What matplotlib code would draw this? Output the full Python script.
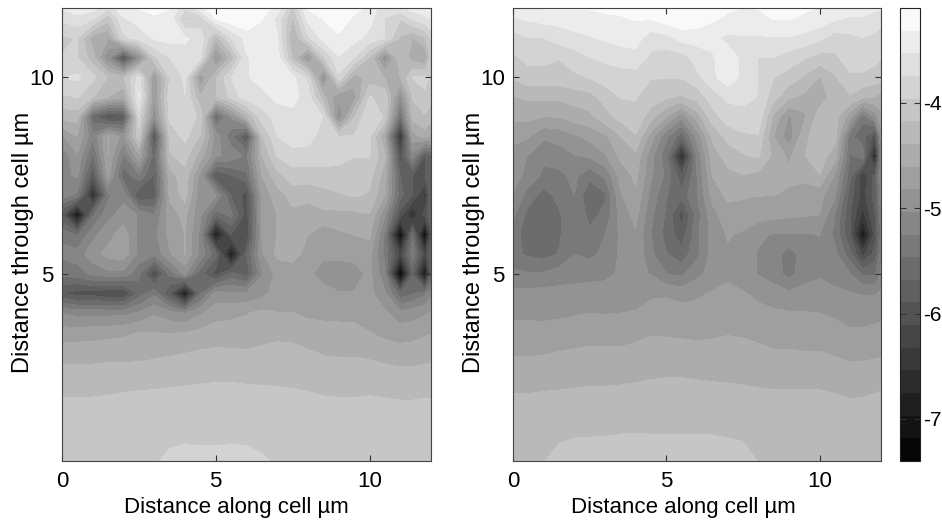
import numpy as np
import matplotlib
matplotlib.use("Agg")
import matplotlib.pyplot as plt

plt.rcParams['font.family'] = ['Liberation Sans', 'DejaVu Sans']

# posiciones de la malla (um)
x_cell = [0, .5, 1, 1.5, 2, 2.5, 3, 3.5, 4, 4.5, 5, 5.5, 6, 6.5, 7, 7.5, 8, 8.5, 9, 9.5, 10, 10.5, 11, 11.4, 11.8, 12]
y_cell = [0.23, 1, 1.5, 2, 2.5, 3, 3.5, 4, 4.5, 5, 5.5, 6, 6.5, 7, 7.5, 8, 8.5, 9, 9.5, 10, 10.5, 11, 11.5, 11.77]

# panel izquierdo, filas de abajo hacia arriba
left_z = [
    [-4.02,-4.02,-4.02,-4.02,-4.02,-4.02,-3.98,-3.92,-3.88,-3.9,-3.9,-3.88,-3.9,-3.94,-3.98,-4.0,-4.02,-4.02,-4.02,-4.02,-4.02,-4.02,-4.02,-4.02,-4.02,-4.02],
    [-4.03,-4.03,-4.03,-4.03,-4.03,-4.03,-4.03,-4.02,-4.02,-4.02,-4.02,-4.02,-4.02,-4.02,-4.02,-4.03,-4.03,-4.03,-4.03,-4.03,-4.03,-4.03,-4.03,-4.03,-4.03,-4.03],
    [-4.12,-4.12,-4.11,-4.11,-4.1,-4.1,-4.09,-4.08,-4.07,-4.07,-4.06,-4.06,-4.07,-4.08,-4.09,-4.1,-4.11,-4.12,-4.12,-4.12,-4.12,-4.12,-4.13,-4.13,-4.13,-4.13],
    [-4.2,-4.2,-4.2,-4.19,-4.18,-4.17,-4.16,-4.15,-4.14,-4.13,-4.12,-4.12,-4.13,-4.14,-4.15,-4.16,-4.175,-4.19,-4.2,-4.2,-4.19,-4.2,-4.21,-4.21,-4.2,-4.2],
    [-4.33,-4.33,-4.33,-4.32,-4.32,-4.31,-4.3,-4.28,-4.27,-4.25,-4.24,-4.24,-4.25,-4.25,-4.25,-4.26,-4.28,-4.3,-4.3,-4.3,-4.31,-4.33,-4.35,-4.35,-4.34,-4.33],
    [-4.49,-4.49,-4.48,-4.47,-4.47,-4.46,-4.44,-4.42,-4.4,-4.37,-4.35,-4.36,-4.37,-4.35,-4.32,-4.33,-4.37,-4.41,-4.42,-4.42,-4.44,-4.48,-4.51,-4.5,-4.47,-4.46],
    [-4.72,-4.72,-4.7,-4.68,-4.65,-4.6,-4.6,-4.62,-4.6,-4.55,-4.5,-4.52,-4.5,-4.47,-4.45,-4.46,-4.5,-4.54,-4.55,-4.56,-4.6,-4.67,-4.72,-4.7,-4.64,-4.62],
    [-5.05,-5.1,-5.1,-5.1,-5.1,-5.0,-4.85,-4.95,-5.05,-4.85,-4.7,-4.65,-4.62,-4.55,-4.6,-4.6,-4.65,-4.65,-4.65,-4.65,-4.7,-4.78,-4.95,-4.9,-4.85,-4.8],
    [-5.9,-6.0,-6.0,-6.1,-6.1,-5.6,-5.3,-5.9,-6.9,-5.5,-4.95,-5.0,-5.0,-4.9,-4.7,-4.7,-4.7,-4.7,-4.8,-4.8,-4.75,-5.0,-5.6,-5.5,-5.3,-5.1],
    [-5.4,-5.35,-5.2,-5.1,-5.1,-5.4,-6.1,-5.4,-5.0,-5.6,-6.0,-5.6,-5.8,-5.05,-4.75,-4.75,-4.75,-4.95,-5.05,-4.95,-4.75,-5.2,-7.3,-5.7,-7.0,-5.8],
    [-5.2,-5.15,-4.9,-4.75,-4.7,-5.1,-5.2,-4.85,-4.6,-5.1,-5.6,-6.9,-5.7,-4.85,-4.55,-4.5,-4.7,-4.75,-4.72,-4.72,-4.75,-5.3,-6.2,-5.3,-6.2,-5.7],
    [-5.3,-5.5,-5.1,-4.9,-4.7,-5.1,-5.1,-4.75,-4.6,-5.1,-6.9,-5.9,-6.1,-4.8,-4.6,-4.55,-4.6,-4.75,-4.65,-4.6,-4.55,-5.3,-7.2,-5.5,-7.2,-6.0],
    [-5.9,-7.0,-5.5,-5.1,-4.95,-5.05,-5.25,-4.7,-4.55,-5.0,-5.6,-5.4,-6.0,-4.8,-4.6,-4.45,-4.45,-4.45,-4.45,-4.45,-4.4,-5.0,-6.0,-6.6,-6.0,-5.7],
    [-5.15,-5.3,-6.6,-5.3,-5.1,-5.9,-5.8,-4.55,-4.3,-5.0,-5.0,-5.7,-6.0,-4.75,-4.5,-4.3,-4.35,-4.25,-4.2,-4.15,-4.2,-4.6,-5.6,-5.9,-6.4,-5.7],
    [-5.1,-5.0,-5.9,-4.75,-5.6,-5.3,-5.7,-4.5,-4.25,-4.9,-5.9,-5.7,-5.5,-4.6,-4.25,-4.05,-4.05,-4.05,-4.03,-4.1,-4.1,-4.5,-5.7,-5.9,-5.9,-5.7],
    [-5.2,-4.85,-5.5,-4.6,-5.3,-4.65,-5.6,-4.2,-4.1,-4.5,-5.0,-5.1,-5.3,-4.4,-3.95,-3.85,-3.85,-3.85,-3.9,-3.95,-3.95,-4.35,-6.0,-5.1,-5.9,-5.7],
    [-4.85,-4.6,-5.2,-4.6,-4.9,-4.05,-6.0,-4.1,-3.9,-4.2,-4.9,-5.4,-5.9,-4.2,-3.75,-3.6,-3.65,-3.85,-3.95,-3.95,-3.9,-4.6,-6.5,-4.7,-4.5,-4.6],
    [-4.3,-4.3,-5.6,-6.0,-5.9,-3.85,-5.0,-3.9,-3.85,-4.0,-5.6,-5.0,-4.4,-3.85,-3.65,-3.6,-3.65,-3.75,-5.0,-4.2,-3.75,-4.0,-5.5,-4.3,-4.2,-4.3],
    [-4.0,-3.95,-4.15,-4.4,-4.55,-3.5,-4.8,-3.85,-3.75,-4.35,-4.2,-3.9,-3.6,-3.6,-3.47,-3.45,-3.65,-4.3,-4.8,-4.7,-3.95,-4.0,-5.0,-4.15,-4.0,-4.1],
    [-3.75,-3.7,-3.9,-4.2,-4.2,-3.65,-4.8,-3.95,-3.7,-4.8,-4.2,-3.75,-3.55,-3.45,-3.4,-3.47,-3.8,-5.0,-3.8,-4.5,-4.3,-4.4,-4.4,-3.95,-3.9,-4.0],
    [-3.95,-3.95,-4.3,-5.0,-6.0,-5.0,-4.0,-3.75,-3.6,-3.7,-4.9,-4.3,-3.55,-3.45,-3.42,-4.2,-4.9,-4.0,-3.55,-3.75,-4.2,-5.0,-4.2,-4.5,-4.6,-4.1],
    [-4.0,-3.95,-4.5,-4.6,-3.8,-3.65,-3.5,-3.45,-3.5,-3.6,-4.3,-3.75,-3.45,-3.4,-3.5,-4.4,-3.8,-3.45,-3.35,-3.45,-3.6,-3.75,-4.2,-4.4,-4.2,-3.95],
    [-3.7,-3.6,-3.7,-4.1,-3.55,-3.45,-3.35,-3.4,-4.0,-3.9,-3.3,-3.15,-3.12,-3.3,-3.6,-4.2,-3.45,-3.3,-3.2,-3.35,-3.45,-3.75,-3.95,-3.7,-3.6,-3.5],
    [-3.5,-3.4,-3.45,-3.7,-3.35,-3.3,-3.25,-3.3,-3.7,-3.4,-3.15,-3.12,-3.12,-3.2,-3.4,-4.0,-3.3,-3.2,-3.15,-3.25,-3.35,-3.7,-3.6,-3.45,-3.35,-3.35],
]

# panel derecho
right_z = [
    [-4.25,-4.22,-4.18,-4.14,-4.1,-4.08,-4.07,-4.05,-4.04,-4.05,-4.07,-4.06,-4.06,-4.08,-4.1,-4.13,-4.18,-4.22,-4.24,-4.24,-4.24,-4.25,-4.26,-4.25,-4.25,-4.25],
    [-4.21,-4.21,-4.2,-4.2,-4.2,-4.2,-4.2,-4.19,-4.19,-4.19,-4.19,-4.19,-4.19,-4.19,-4.2,-4.2,-4.2,-4.21,-4.21,-4.21,-4.21,-4.21,-4.22,-4.22,-4.22,-4.22],
    [-4.3,-4.3,-4.3,-4.29,-4.28,-4.28,-4.27,-4.26,-4.26,-4.25,-4.25,-4.25,-4.25,-4.26,-4.26,-4.27,-4.28,-4.29,-4.3,-4.3,-4.3,-4.31,-4.32,-4.32,-4.31,-4.31],
    [-4.4,-4.4,-4.39,-4.38,-4.37,-4.36,-4.36,-4.35,-4.34,-4.33,-4.32,-4.32,-4.33,-4.34,-4.35,-4.36,-4.37,-4.38,-4.38,-4.38,-4.38,-4.4,-4.43,-4.42,-4.4,-4.39],
    [-4.52,-4.52,-4.51,-4.5,-4.48,-4.47,-4.47,-4.47,-4.45,-4.43,-4.42,-4.42,-4.43,-4.44,-4.44,-4.45,-4.47,-4.49,-4.49,-4.5,-4.5,-4.52,-4.55,-4.55,-4.54,-4.53],
    [-4.63,-4.63,-4.62,-4.6,-4.58,-4.57,-4.57,-4.57,-4.55,-4.53,-4.52,-4.53,-4.54,-4.53,-4.52,-4.54,-4.56,-4.59,-4.59,-4.6,-4.6,-4.63,-4.66,-4.65,-4.64,-4.63],
    [-4.74,-4.74,-4.74,-4.73,-4.72,-4.69,-4.7,-4.7,-4.66,-4.62,-4.63,-4.64,-4.65,-4.64,-4.62,-4.63,-4.66,-4.68,-4.69,-4.7,-4.72,-4.75,-4.79,-4.78,-4.76,-4.75],
    [-4.87,-4.87,-4.88,-4.86,-4.84,-4.82,-4.83,-4.82,-4.81,-4.75,-4.72,-4.74,-4.76,-4.74,-4.72,-4.72,-4.75,-4.79,-4.8,-4.81,-4.82,-4.85,-4.92,-4.92,-4.9,-4.88],
    [-4.98,-4.97,-4.96,-4.96,-4.95,-4.93,-4.92,-4.9,-4.88,-4.85,-4.85,-4.9,-4.85,-4.8,-4.78,-4.8,-4.88,-4.92,-5.0,-4.93,-4.9,-5.0,-5.02,-5.05,-5.05,-5.0],
    [-5.2,-5.23,-5.22,-5.15,-5.13,-5.12,-5.1,-5.0,-4.97,-5.05,-5.25,-5.3,-5.1,-4.95,-4.85,-4.95,-5.05,-5.15,-5.32,-5.15,-5.08,-5.1,-5.25,-5.5,-5.5,-5.2],
    [-5.4,-5.5,-5.55,-5.45,-5.25,-5.3,-5.2,-5.0,-4.85,-5.2,-5.45,-5.6,-5.3,-4.95,-4.85,-4.95,-5.05,-5.15,-5.35,-5.15,-5.08,-5.2,-5.6,-6.2,-5.8,-5.3],
    [-5.35,-5.6,-5.65,-5.5,-5.25,-5.4,-5.25,-5.0,-4.85,-5.25,-5.55,-5.8,-5.3,-4.95,-4.8,-4.85,-5.0,-5.05,-5.05,-5.05,-5.03,-5.3,-5.9,-7.0,-6.0,-5.4],
    [-5.2,-5.55,-5.65,-5.5,-5.25,-5.55,-5.4,-4.95,-4.75,-5.2,-5.5,-6.0,-5.35,-4.9,-4.7,-4.7,-4.72,-4.75,-4.78,-4.8,-4.82,-5.25,-5.9,-6.4,-5.9,-5.35],
    [-5.05,-5.35,-5.55,-5.4,-5.25,-5.65,-5.5,-4.85,-4.65,-5.1,-5.45,-5.6,-5.25,-4.75,-4.55,-4.58,-4.6,-4.6,-4.65,-4.7,-4.75,-5.0,-5.8,-6.2,-5.8,-5.2],
    [-4.95,-5.1,-5.3,-5.3,-5.2,-5.4,-5.2,-4.75,-4.55,-5.0,-5.3,-5.85,-5.25,-4.6,-4.45,-4.4,-4.45,-4.5,-4.55,-4.55,-4.4,-4.85,-5.6,-6.3,-5.8,-5.1],
    [-4.9,-5.05,-5.2,-5.15,-5.05,-5.0,-4.85,-4.55,-4.45,-4.95,-5.4,-6.6,-5.2,-4.5,-4.3,-4.2,-4.15,-4.45,-4.65,-4.4,-4.28,-4.5,-5.5,-5.3,-6.7,-5.2],
    [-4.75,-4.8,-5.0,-4.95,-4.85,-4.75,-4.65,-4.4,-4.2,-4.7,-5.2,-5.6,-4.95,-4.35,-4.1,-4.0,-3.98,-4.6,-4.95,-4.45,-4.25,-4.3,-5.4,-5.6,-6.0,-5.0],
    [-4.55,-4.55,-4.6,-4.6,-4.5,-4.45,-4.25,-4.1,-4.0,-4.3,-4.6,-4.95,-4.5,-4.05,-3.85,-3.8,-3.8,-4.45,-4.85,-4.65,-4.28,-4.3,-4.75,-5.4,-4.95,-4.65],
    [-4.4,-4.35,-4.35,-4.35,-4.3,-4.25,-4.1,-3.95,-3.95,-4.05,-4.15,-4.2,-4.1,-3.85,-3.7,-3.7,-3.75,-4.1,-4.35,-4.45,-4.5,-4.3,-4.2,-4.35,-4.4,-4.5],
    [-4.15,-4.05,-4.05,-4.05,-4.0,-3.95,-3.85,-3.85,-3.85,-3.95,-3.95,-3.95,-3.8,-3.58,-3.4,-3.58,-3.75,-3.95,-4.05,-4.2,-4.4,-4.2,-4.0,-4.0,-4.05,-4.05],
    [-4.0,-3.9,-3.9,-3.95,-3.85,-3.75,-3.7,-3.65,-3.6,-3.8,-3.85,-3.85,-3.65,-3.55,-3.42,-3.58,-3.75,-3.75,-3.85,-3.95,-4.05,-4.0,-3.85,-3.85,-3.9,-3.95],
    [-3.85,-3.75,-3.75,-3.65,-3.6,-3.55,-3.5,-3.45,-3.45,-3.65,-3.6,-3.45,-3.45,-3.48,-3.58,-3.55,-3.55,-3.55,-3.55,-3.6,-3.7,-3.85,-3.8,-3.75,-3.8,-3.9],
    [-3.55,-3.5,-3.45,-3.45,-3.4,-3.38,-3.35,-3.33,-3.3,-3.3,-3.2,-3.15,-3.18,-3.28,-3.35,-3.4,-3.4,-3.3,-3.3,-3.35,-3.4,-3.5,-3.55,-3.55,-3.6,-3.65],
    [-3.45,-3.35,-3.3,-3.3,-3.3,-3.3,-3.28,-3.28,-3.2,-3.2,-3.12,-3.12,-3.12,-3.2,-3.28,-3.32,-3.3,-3.25,-3.2,-3.28,-3.33,-3.4,-3.45,-3.45,-3.5,-3.5],
]

niveles = np.linspace(-7.4, -3.1, 21)
W, H = 942, 524


def eje(x0, y0, x1, y1):  # caja en pixeles, y hacia abajo
    return fig.add_axes([x0 / W, 1 - y1 / H, (x1 - x0) / W, (y1 - y0) / H])


fig = plt.figure(figsize=(W / 100, H / 100), dpi=100)
cajas = [(62, 8, 431, 461), (513, 8, 881, 461)]
pos_xlabel = [0.4715, 0.462]
for caja, z, px in zip(cajas, [left_z, right_z], pos_xlabel):
    ax = eje(*caja)
    cs = ax.contourf(x_cell, y_cell, np.array(z), levels=niveles, cmap="gray", vmin=-7.4, vmax=-3.1)
    ax.set_xlim(0, 12)
    ax.set_ylim(0.23, 11.77)
    ax.set_xticks([0, 5, 10])
    ax.set_yticks([5, 10])
    ax.tick_params(direction="in", top=True, right=True, length=4, width=0.8, color="#333333", labelsize=16)
    ax.tick_params(axis="x", pad=7)
    ax.tick_params(axis="y", pad=6)
    ax.set_xlabel("Distance along cell µm", fontsize=16)
    ax.set_ylabel("Distance through cell µm", fontsize=17)
    ax.xaxis.set_label_coords(px, -0.08)
    ax.yaxis.set_label_coords(-0.077, 0.483)
    for s in ax.spines.values():
        s.set_linewidth(0.8)
        s.set_color("#444444")

cax = eje(900, 8, 920, 461)
cb = fig.colorbar(cs, cax=cax, ticks=[-4, -5, -6, -7])
cb.ax.set_yticklabels(["-4", "-5", "-6", "-7"])
cb.ax.tick_params(direction="in", left=True, right=True, length=4, width=0.8, color="#333333", labelsize=15, pad=2)
cb.outline.set_linewidth(0.8)
cb.outline.set_edgecolor("#222222")

fig.savefig("out.png", dpi=100)
